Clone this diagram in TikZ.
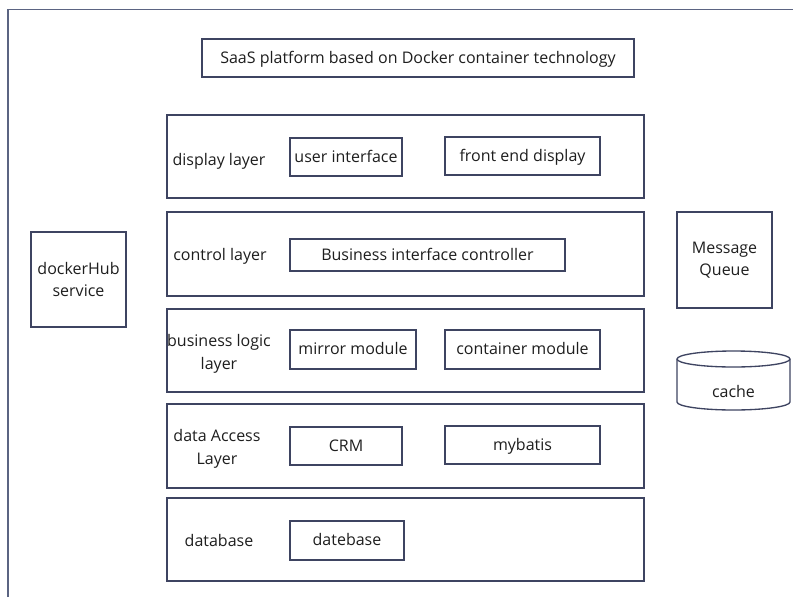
\documentclass[tikz,border=0pt]{standalone}
\usepackage{fontspec}
\setmainfont{Open Sans}
\newdimen\px \px=0.75pt
\begin{document}
\begin{tikzpicture}[x=0.75pt,y=-0.75pt,
  every node/.style={font=\fontsize{12}{17}\selectfont, text=txt},
  one/.style={text height=1em, text depth=0.25em},
  box/.style={draw=edge, line width=1pt, rectangle, inner sep=0pt, align=center},
  lbl/.style={align=center, inner sep=0pt},
  two/.style={yshift=-1.5pt}]
\definecolor{edge}{HTML}{3E4461}
\definecolor{frame}{HTML}{5B6482}
\definecolor{txt}{HTML}{1E1E1E}
\useasboundingbox (0,0) rectangle (793,597);
% outer frame
\draw[frame, line width=1.2pt] (8,597) -- (8,9.5) -- (793,9.5);
% title
\node[box, one, minimum width=432\px, minimum height=38\px] (title) at (418,58) {SaaS platform based on Docker container technology};
% layers
\node[box, minimum width=477\px, minimum height=83\px] (Ldisp) at (405.5,156.5) {};
\node[box, minimum width=477\px, minimum height=84\px] (Lctrl) at (405.5,254) {};
\node[box, minimum width=477\px, minimum height=83\px] (Lbus) at (405.5,350.5) {};
\node[box, minimum width=477\px, minimum height=84\px] (Ldata) at (405.5,446) {};
\node[box, minimum width=477\px, minimum height=83\px] (Ldb) at (405.5,539.5) {};
% layer names
\node[lbl, one] (tdisp) at (219,160) {display layer};
\node[lbl, one] (tctrl) at (220,255) {control layer};
\node[lbl, two] (tbus) at (219,352) {business logic\\layer};
\node[lbl, two] (tdata) at (217,447) {data Access\\Layer};
\node[lbl, one] (tdb) at (219,541) {database};
% components
\node[box, one, minimum width=112\px, minimum height=38\px] (ui) at (346,157) {user interface};
\node[box, one, minimum width=155\px, minimum height=38\px] (fe) at (522.5,156) {front end display};
\node[box, one, minimum width=275\px, minimum height=32\px] (bic) at (427.5,255) {Business interface controller};
\node[box, one, minimum width=126\px, minimum height=39\px] (mm) at (353,349.5) {mirror module};
\node[box, one, minimum width=155\px, minimum height=39\px] (cm) at (522.5,349.5) {container module};
\node[box, one, minimum width=112\px, minimum height=38\px] (crm) at (346,446) {CRM};
\node[box, one, minimum width=155\px, minimum height=38\px] (mb) at (522.5,445) {mybatis};
\node[box, one, minimum width=114\px, minimum height=39\px] (dbb) at (347,540.5) {datebase};
% side services
\node[box, minimum width=95\px, minimum height=95\px] (hub) at (78.5,279.5) {dockerHub\\service};
\node[box, minimum width=95\px, minimum height=96\px] (mq) at (724.5,260) {Message\\Queue};
% cache cylinder: outline, then the front rim of the lid
\draw[edge, line width=1pt, fill=white]
  (677,359) -- (677,402) arc[start angle=180, end angle=0, x radius=56.5, y radius=8]
  -- (790,359) arc[start angle=0, end angle=-180, x radius=56.5, y radius=8] -- cycle;
\draw[edge, line width=1pt] (677,359) arc[start angle=180, end angle=0, x radius=56.5, y radius=8];
\node[lbl, one] (cache) at (733.5,392) {cache};
\end{tikzpicture}
\end{document}
